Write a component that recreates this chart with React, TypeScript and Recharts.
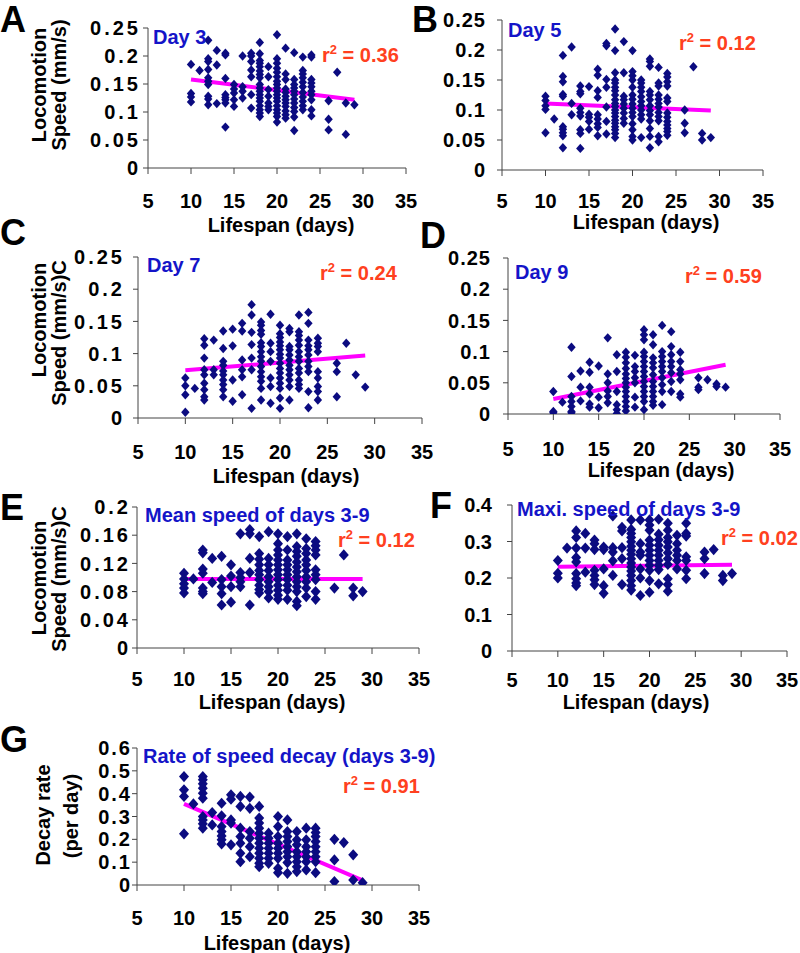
import React from 'react';
import { ScatterChart, Scatter, XAxis, YAxis } from 'recharts';

const FONT = '"Liberation Sans", Arial, Helvetica, sans-serif';
const NAVY = '#0b0b80';
const MAGENTA = '#ff00ff';
const TITLE_BLUE = '#1414c8';
const R2_RED = '#ff4020';
const AXIS = '#444';

// tick values
const lifespanTicks = [5, 10, 15, 20, 25, 30, 35];
const speedTicks = [0, 0.05, 0.1, 0.15, 0.2, 0.25];
const meanSpeedTicks = [0, 0.04, 0.08, 0.12, 0.16, 0.2];
const maxSpeedTicks = [0, 0.1, 0.2, 0.3, 0.4];
const decayTicks = [0, 0.1, 0.2, 0.3, 0.4, 0.5, 0.6];

type Column = [number, number[]];

// [lifespan, speeds of the worms with that lifespan]
const day3: Column[] = [
  [10, [0.185, 0.133, 0.127, 0.118]],
  [11, [0.174]],
  [12, [0.228, 0.195, 0.19, 0.176, 0.161, 0.155, 0.149, 0.128, 0.123, 0.113]],
  [13, [0.21, 0.184, 0.115]],
  [14, [0.205, 0.202, 0.16, 0.131, 0.126, 0.122, 0.116, 0.073]],
  [15, [0.149, 0.141, 0.134, 0.122, 0.11]],
  [16, [0.2, 0.145, 0.137, 0.125]],
  [17, [0.205, 0.2, 0.19, 0.175, 0.163, 0.131, 0.107]],
  [18, [0.224, 0.204, 0.192, 0.187, 0.181, 0.173, 0.167, 0.161, 0.149, 0.143, 0.137, 0.131, 0.125, 0.119, 0.111, 0.104, 0.098, 0.092]],
  [19, [0.181, 0.163, 0.14, 0.128, 0.116, 0.11, 0.104]],
  [20, [0.238, 0.195, 0.187, 0.178, 0.171, 0.163, 0.155, 0.149, 0.143, 0.137, 0.131, 0.125, 0.119, 0.111, 0.104, 0.098, 0.092, 0.082]],
  [21, [0.214, 0.168, 0.158, 0.141, 0.135, 0.128, 0.122, 0.116, 0.11, 0.102, 0.095, 0.089]],
  [22, [0.206, 0.158, 0.149, 0.143, 0.137, 0.131, 0.123, 0.116, 0.108, 0.101, 0.091, 0.067]],
  [23, [0.198, 0.174, 0.168, 0.161, 0.153, 0.145, 0.135, 0.127, 0.119, 0.111, 0.104]],
  [24, [0.202, 0.198, 0.158, 0.152, 0.145, 0.137, 0.131, 0.122, 0.104, 0.093]],
  [26, [0.12, 0.087, 0.068]],
  [27, [0.171]],
  [28, [0.116, 0.06]],
  [29, [0.113]],
];

const day5: Column[] = [
  [10, [0.123, 0.116, 0.107, 0.101, 0.062]],
  [11, [0.085]],
  [12, [0.191, 0.156, 0.147, 0.126, 0.123, 0.072, 0.068, 0.062, 0.057, 0.037]],
  [13, [0.205, 0.111, 0.092]],
  [14, [0.14, 0.131, 0.127, 0.103, 0.096, 0.09, 0.067, 0.061, 0.036]],
  [15, [0.139, 0.093, 0.088, 0.081, 0.068]],
  [16, [0.168, 0.158, 0.132, 0.121, 0.092, 0.085, 0.077, 0.071, 0.057]],
  [17, [0.211, 0.207, 0.151, 0.138, 0.105, 0.081, 0.06]],
  [18, [0.235, 0.199, 0.162, 0.15, 0.145, 0.138, 0.132, 0.125, 0.117, 0.111, 0.106, 0.1, 0.095, 0.089, 0.083, 0.078, 0.072, 0.067, 0.061, 0.054]],
  [19, [0.214, 0.162, 0.123, 0.117, 0.11, 0.103, 0.095, 0.086, 0.078]],
  [20, [0.199, 0.164, 0.157, 0.15, 0.138, 0.125, 0.118, 0.11, 0.103, 0.096, 0.089, 0.077, 0.067, 0.056, 0.05]],
  [21, [0.15, 0.145, 0.138, 0.131, 0.122, 0.114, 0.107, 0.1, 0.092, 0.085, 0.054]],
  [22, [0.185, 0.181, 0.173, 0.131, 0.125, 0.117, 0.107, 0.099, 0.092, 0.082, 0.069, 0.056, 0.037]],
  [23, [0.171, 0.145, 0.14, 0.125, 0.118, 0.111, 0.105, 0.096, 0.089, 0.082, 0.056, 0.047]],
  [24, [0.161, 0.155, 0.147, 0.14, 0.12, 0.114, 0.095, 0.088, 0.081, 0.075, 0.069, 0.064, 0.058]],
  [26, [0.1, 0.078, 0.062]],
  [27, [0.172]],
  [28, [0.061, 0.05]],
  [29, [0.054]],
];

const day7: Column[] = [
  [10, [0.062, 0.05, 0.036, 0.009]],
  [11, [0.046]],
  [12, [0.123, 0.113, 0.093, 0.075, 0.067, 0.054, 0.044, 0.033, 0.028]],
  [13, [0.121, 0.075, 0.067]],
  [14, [0.135, 0.108, 0.088, 0.082, 0.073, 0.067, 0.059, 0.052, 0.044, 0.033]],
  [15, [0.138, 0.112, 0.059, 0.026]],
  [16, [0.147, 0.135, 0.09, 0.075, 0.064, 0.036]],
  [17, [0.176, 0.16, 0.133, 0.114, 0.093, 0.075, 0.015]],
  [18, [0.149, 0.144, 0.136, 0.13, 0.117, 0.111, 0.103, 0.095, 0.088, 0.08, 0.072, 0.064, 0.057, 0.046, 0.028]],
  [19, [0.161, 0.116, 0.103, 0.088, 0.062, 0.049, 0.023]],
  [20, [0.144, 0.131, 0.125, 0.118, 0.112, 0.106, 0.099, 0.093, 0.085, 0.077, 0.07, 0.062, 0.054, 0.046, 0.031, 0.015]],
  [21, [0.139, 0.134, 0.111, 0.106, 0.098, 0.09, 0.082, 0.075, 0.067, 0.059, 0.049, 0.028]],
  [22, [0.16, 0.134, 0.128, 0.121, 0.113, 0.103, 0.095, 0.088, 0.077, 0.07, 0.059, 0.052, 0.046]],
  [23, [0.164, 0.147, 0.121, 0.112, 0.106, 0.098, 0.088, 0.08, 0.072, 0.041, 0.016]],
  [24, [0.124, 0.116, 0.111, 0.103, 0.072, 0.062, 0.049, 0.041, 0.028]],
  [26, [0.085, 0.072, 0.033]],
  [27, [0.116]],
  [28, [0.067]],
  [29, [0.048]],
];

const day9: Column[] = [
  [10, [0.036, 0.004, 0.002]],
  [11, [0.019]],
  [12, [0.107, 0.06, 0.028, 0.02, 0.012, 0.004, 0.002]],
  [13, [0.069, 0.043, 0.021]],
  [14, [0.083, 0.067, 0.043, 0.032, 0.016, 0.011]],
  [15, [0.077, 0.027, 0.01]],
  [16, [0.122, 0.064, 0.05, 0.037, 0.028, 0.018]],
  [17, [0.095, 0.068, 0.036, 0.015, 0.007, 0.001]],
  [18, [0.099, 0.091, 0.082, 0.073, 0.064, 0.057, 0.05, 0.043, 0.036, 0.028, 0.02, 0.012, 0.005]],
  [19, [0.094, 0.076, 0.068, 0.058, 0.05, 0.027, 0.011]],
  [20, [0.135, 0.127, 0.119, 0.099, 0.092, 0.084, 0.076, 0.068, 0.06, 0.052, 0.044, 0.036, 0.028, 0.02, 0.007]],
  [21, [0.127, 0.111, 0.09, 0.082, 0.074, 0.063, 0.052, 0.044, 0.036, 0.028, 0.02, 0.014]],
  [22, [0.142, 0.1, 0.092, 0.084, 0.076, 0.068, 0.058, 0.047, 0.036, 0.015]],
  [23, [0.132, 0.108, 0.095, 0.084, 0.076, 0.066, 0.052, 0.036]],
  [24, [0.099, 0.084, 0.071, 0.064, 0.055, 0.032, 0.027]],
  [26, [0.058, 0.043, 0.039]],
  [27, [0.055]],
  [28, [0.048, 0.044]],
  [29, [0.043]],
];

const meanSpeed: Column[] = [
  [10, [0.106, 0.098, 0.091, 0.085, 0.078]],
  [11, [0.098]],
  [12, [0.139, 0.135, 0.112, 0.106, 0.085, 0.08, 0.077]],
  [13, [0.127, 0.093]],
  [14, [0.13, 0.097, 0.087, 0.077, 0.061]],
  [15, [0.118, 0.102, 0.087, 0.065]],
  [16, [0.162, 0.107, 0.1, 0.094, 0.087]],
  [17, [0.168, 0.162, 0.127, 0.107, 0.061]],
  [18, [0.158, 0.134, 0.126, 0.118, 0.11, 0.104, 0.097, 0.089, 0.083, 0.078]],
  [19, [0.165, 0.127, 0.118, 0.11, 0.101, 0.094, 0.087, 0.08, 0.071]],
  [20, [0.162, 0.148, 0.139, 0.132, 0.125, 0.118, 0.111, 0.104, 0.097, 0.089, 0.082, 0.075, 0.069]],
  [21, [0.158, 0.139, 0.125, 0.118, 0.111, 0.104, 0.097, 0.089, 0.082, 0.069]],
  [22, [0.162, 0.144, 0.137, 0.13, 0.122, 0.115, 0.108, 0.101, 0.094, 0.087, 0.08, 0.066, 0.06]],
  [23, [0.155, 0.141, 0.134, 0.125, 0.118, 0.11, 0.101, 0.094, 0.085, 0.073]],
  [24, [0.151, 0.145, 0.139, 0.132, 0.111, 0.104, 0.097, 0.08, 0.069]],
  [26, [0.085]],
  [27, [0.132]],
  [28, [0.085, 0.074]],
  [29, [0.08]],
];

const maxSpeed: Column[] = [
  [10, [0.248, 0.213, 0.2]],
  [11, [0.282]],
  [12, [0.329, 0.311, 0.282, 0.256, 0.244, 0.212, 0.198, 0.186, 0.179]],
  [13, [0.322, 0.282, 0.216]],
  [14, [0.304, 0.294, 0.278, 0.221, 0.207, 0.195, 0.182]],
  [15, [0.285, 0.278, 0.225, 0.179, 0.158]],
  [16, [0.37, 0.283, 0.271, 0.247, 0.207]],
  [17, [0.339, 0.329, 0.283, 0.253, 0.182]],
  [18, [0.359, 0.333, 0.322, 0.311, 0.299, 0.287, 0.276, 0.265, 0.253, 0.241, 0.23, 0.219, 0.207, 0.193, 0.179, 0.167]],
  [19, [0.359, 0.294, 0.271, 0.262, 0.225, 0.2, 0.152]],
  [20, [0.359, 0.345, 0.331, 0.304, 0.29, 0.276, 0.262, 0.248, 0.235, 0.221, 0.193, 0.161]],
  [21, [0.361, 0.32, 0.305, 0.29, 0.276, 0.262, 0.248, 0.235, 0.223, 0.184]],
  [22, [0.35, 0.331, 0.311, 0.299, 0.285, 0.269, 0.253, 0.237, 0.198, 0.182, 0.164]],
  [23, [0.317, 0.294, 0.276, 0.262, 0.248, 0.225]],
  [24, [0.35, 0.322, 0.315, 0.258, 0.248, 0.221, 0.198]],
  [26, [0.271, 0.253, 0.212]],
  [27, [0.278]],
  [28, [0.207, 0.193]],
  [29, [0.212]],
];

const decayRate: Column[] = [
  [10, [0.475, 0.417, 0.388, 0.224]],
  [11, [0.355]],
  [12, [0.475, 0.461, 0.443, 0.424, 0.402, 0.38, 0.3, 0.285, 0.268, 0.249]],
  [13, [0.317, 0.263]],
  [14, [0.358, 0.303, 0.256, 0.234, 0.215, 0.198, 0.18]],
  [15, [0.395, 0.376, 0.285, 0.271, 0.176]],
  [16, [0.388, 0.344, 0.249, 0.212, 0.183, 0.139, 0.102]],
  [17, [0.385, 0.336, 0.234, 0.205, 0.168, 0.124]],
  [18, [0.344, 0.293, 0.271, 0.249, 0.227, 0.205, 0.183, 0.161, 0.139, 0.117, 0.095, 0.08]],
  [19, [0.227, 0.205, 0.183, 0.161, 0.139, 0.117, 0.095]],
  [20, [0.3, 0.256, 0.212, 0.183, 0.161, 0.139, 0.117, 0.073, 0.054]],
  [21, [0.285, 0.234, 0.212, 0.19, 0.168, 0.146, 0.124, 0.098, 0.051]],
  [22, [0.234, 0.198, 0.176, 0.146, 0.124, 0.102, 0.08, 0.059]],
  [23, [0.249, 0.198, 0.168, 0.146, 0.124, 0.102, 0.066]],
  [24, [0.249, 0.23, 0.212, 0.19, 0.168, 0.146, 0.124, 0.102, 0.054]],
  [26, [0.2, 0.11, 0.015]],
  [27, [0.186]],
  [28, [0.132, 0.022]],
  [29, [0.01]],
];

// trend line end points [lifespan, value]
const day3Trend: [number, number][] = [[10, 0.158], [29, 0.122]];
const day5Trend: [number, number][] = [[10, 0.111], [29, 0.099]];
const day7Trend: [number, number][] = [[10, 0.074], [29, 0.097]];
const day9Trend: [number, number][] = [[10, 0.024], [29, 0.079]];
const meanTrend: [number, number][] = [[10, 0.098], [29, 0.098]];
const maxTrend: [number, number][] = [[10, 0.231], [29, 0.236]];
const decayTrend: [number, number][] = [[10, 0.355], [29, 0.02]];

const toPoints = (cols: Column[]) =>
  cols.flatMap(([x, ys]) => ys.map((y) => ({ x, y })));

interface PanelProps {
  left: number;
  right: number;
  top: number;
  bottom: number;
  yMax: number;
  yTicks: number[];
  cols: Column[];
  trend: [number, number][];
  xTickGap: number;
  yTickGap: number;
  ySpacing: number;
  big?: boolean;
}

function Panel({ left, right, top, bottom, yMax, yTicks, cols, trend, xTickGap, yTickGap, ySpacing, big }: PanelProps) {
  const yAxisW = 70;
  const xAxisH = 50;
  const mTop = 10;
  const mRight = 12;
  const width = right - left + yAxisW + mRight;
  const height = bottom - top + mTop + xAxisH;
  const hw = big ? 5 : 4.2;
  const hh = big ? 5.6 : 4.7;
  const points = toPoints(cols);
  const trendPts = trend.map(([x, y]) => ({ x, y }));

  return (
    <div style={{ position: 'absolute', left: left - yAxisW, top: top - mTop }}>
      <ScatterChart width={width} height={height} margin={{ top: mTop, right: mRight, bottom: 0, left: 0 }}>
        <XAxis
          type="number"
          dataKey="x"
          domain={[5, 35]}
          ticks={lifespanTicks}
          interval={0}
          height={xAxisH}
          tickSize={6}
          tickMargin={xTickGap}
          stroke={AXIS}
          allowDataOverflow
          tick={(p: any) => (
            <text x={p.x} y={p.y} dy="0.71em" textAnchor="middle" fontFamily={FONT} fontSize={20} fontWeight="bold" fill="#000">
              {p.payload.value}
            </text>
          )}
        />
        <YAxis
          type="number"
          dataKey="y"
          domain={[0, yMax]}
          ticks={yTicks}
          interval={0}
          width={yAxisW}
          tickSize={5}
          tickMargin={yTickGap}
          stroke={AXIS}
          allowDataOverflow
          tick={(p: any) => (
            <text x={p.x} y={p.y} dy="0.355em" textAnchor="end" fontFamily={FONT} fontSize={20} fontWeight="bold" fill="#000" letterSpacing={ySpacing}>
              {String(p.payload.value)}
            </text>
          )}
        />
        <Scatter
          data={trendPts}
          fill={MAGENTA}
          line={{ stroke: MAGENTA, strokeWidth: 4 }}
          shape={() => <g />}
          isAnimationActive={false}
        />
        <Scatter
          data={points}
          fill={NAVY}
          isAnimationActive={false}
          shape={(p: any) => (
            <polygon
              points={`${p.cx},${p.cy - hh} ${p.cx + hw},${p.cy} ${p.cx},${p.cy + hh} ${p.cx - hw},${p.cy}`}
              fill={NAVY}
            />
          )}
        />
      </ScatterChart>
    </div>
  );
}

const txt = { fontFamily: FONT, fontWeight: 'bold' as const };

function R2({ x, y, value }: { x: number; y: number; value: string }) {
  return (
    <text x={x} y={y} {...txt} fontSize={20} fill={R2_RED}>
      r<tspan fontSize={13} dy={-8}>2</tspan>
      <tspan dy={8}>{' = ' + value}</tspan>
    </text>
  );
}

function VLabel({ x, y, children }: { x: number; y: number; children: string }) {
  return (
    <text x={x} y={y} {...txt} fontSize={20} textAnchor="middle" transform={`rotate(-90, ${x}, ${y})`}>
      {children}
    </text>
  );
}

export default function App() {
  return (
    <div style={{ position: 'absolute', left: 0, top: 0, width: 800, height: 953, background: '#fff', overflow: 'hidden' }}>
      <Panel left={148} right={406} top={28} bottom={168} yMax={0.25} yTicks={speedTicks} cols={day3} trend={day3Trend} xTickGap={20} yTickGap={2} ySpacing={3} />
      <Panel left={502} right={763} top={20} bottom={170} yMax={0.25} yTicks={speedTicks} cols={day5} trend={day5Trend} xTickGap={18} yTickGap={11} ySpacing={1} />
      <Panel left={138} right={422} top={257} bottom={418} yMax={0.25} yTicks={speedTicks} cols={day7} trend={day7Trend} xTickGap={21} yTickGap={8} ySpacing={3} />
      <Panel left={508} right={780} top={258} bottom={414} yMax={0.25} yTicks={speedTicks} cols={day9} trend={day9Trend} xTickGap={22} yTickGap={12} ySpacing={1} />
      <Panel left={137} right={419} top={507} bottom={648} yMax={0.2} yTicks={meanSpeedTicks} cols={meanSpeed} trend={meanTrend} xTickGap={18} yTickGap={1} ySpacing={3} big />
      <Panel left={512} right={787} top={505} bottom={651} yMax={0.4} yTicks={maxSpeedTicks} cols={maxSpeed} trend={maxTrend} xTickGap={16} yTickGap={15} ySpacing={0} big />
      <Panel left={137} right={419} top={748} bottom={885} yMax={0.6} yTicks={decayTicks} cols={decayRate} trend={decayTrend} xTickGap={20} yTickGap={0} ySpacing={2} big />

      <svg width={800} height={953} style={{ position: 'absolute', left: 0, top: 0, pointerEvents: 'none' }}>
        {/* panel letters */}
        <text x={0} y={32} {...txt} fontSize={36}>A</text>
        <text x={412} y={32} {...txt} fontSize={36}>B</text>
        <text x={0} y={245} {...txt} fontSize={36}>C</text>
        <text x={420} y={248} {...txt} fontSize={36}>D</text>
        <text x={0} y={520} {...txt} fontSize={36}>E</text>
        <text x={430} y={518} {...txt} fontSize={36}>F</text>
        <text x={0} y={752} {...txt} fontSize={36}>G</text>

        {/* panel titles */}
        <text x={153} y={44} {...txt} fontSize={20} fill={TITLE_BLUE}>Day 3</text>
        <text x={508} y={37} {...txt} fontSize={20} fill={TITLE_BLUE}>Day 5</text>
        <text x={147} y={272} {...txt} fontSize={20} fill={TITLE_BLUE}>Day 7</text>
        <text x={515} y={279} {...txt} fontSize={20} fill={TITLE_BLUE}>Day 9</text>
        <text x={145} y={522} {...txt} fontSize={20} fill={TITLE_BLUE}>Mean speed of days 3-9</text>
        <text x={517} y={516} {...txt} fontSize={20} fill={TITLE_BLUE}>Maxi. speed of days 3-9</text>
        <text x={143} y={763} {...txt} fontSize={20} fill={TITLE_BLUE}>Rate of speed decay (days 3-9)</text>

        {/* r squared */}
        <R2 x={322} y={62} value="0.36" />
        <R2 x={679} y={50} value="0.12" />
        <R2 x={320} y={280} value="0.24" />
        <R2 x={685} y={283} value="0.59" />
        <R2 x={338} y={547} value="0.12" />
        <R2 x={721} y={545} value="0.02" />
        <R2 x={343} y={793} value="0.91" />

        {/* x axis titles */}
        <text x={281} y={232} {...txt} fontSize={20} textAnchor="middle">Lifespan (days)</text>
        <text x={646} y={229} {...txt} fontSize={20} textAnchor="middle">Lifespan (days)</text>
        <text x={286} y={483} {...txt} fontSize={20} textAnchor="middle">Lifespan (days)</text>
        <text x={661} y={477} {...txt} fontSize={20} textAnchor="middle">Lifespan (days)</text>
        <text x={272} y={709} {...txt} fontSize={20} textAnchor="middle">Lifespan (days)</text>
        <text x={636} y={709} {...txt} fontSize={20} textAnchor="middle">Lifespan (days)</text>
        <text x={277} y={950} {...txt} fontSize={20} textAnchor="middle">Lifespan (days)</text>

        {/* y axis titles */}
        <VLabel x={46} y={85}>Locomotion</VLabel>
        <VLabel x={66} y={85}>Speed (mm/s)</VLabel>
        <VLabel x={46} y={320}>Locomotion</VLabel>
        <VLabel x={66} y={333}>Speed (mm/s)C</VLabel>
        <VLabel x={46} y={578}>Locomotion</VLabel>
        <VLabel x={66} y={579}>Speed (mm/s)C</VLabel>
        <VLabel x={50} y={815}>Decay rate</VLabel>
        <VLabel x={78} y={816}>(per day)</VLabel>
      </svg>
    </div>
  );
}
